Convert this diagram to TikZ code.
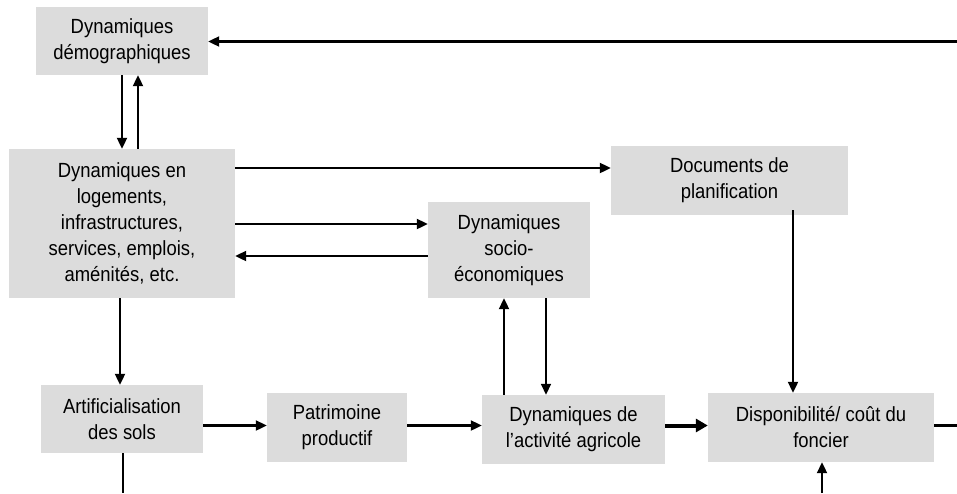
\documentclass[tikz,border=0pt]{standalone}
\usepackage{fontspec}
\setmainfont{Liberation Sans}[FakeStretch=0.9]
\usetikzlibrary{arrows.meta}
\definecolor{boxgray}{HTML}{DCDCDC}
\tikzset{
  box/.style={fill=boxgray, draw=none, inner sep=0pt, align=center,
    font=\fontsize{20.5}{26}\selectfont},
  conn/.style={line width=2.1pt, draw=black},
  arr/.style={conn, -{Triangle[length=11pt,width=10pt]}},
  thickarr/.style={line width=4pt, -{Triangle[length=12pt,width=13pt]}},
}
\begin{document}
\begin{tikzpicture}[x=1pt,y=-1pt]
\useasboundingbox (0,0) rectangle (957,493);
% boxes
\node[box, minimum width=172pt, minimum height=68pt] (demo) at (122,41) {Dynamiques\\démographiques};
\node[box, minimum width=226pt, minimum height=149pt] (log) at (122,223.5) {Dynamiques en\\logements,\\infrastructures,\\services, emplois,\\aménités, etc.};
\node[box, minimum width=237pt, minimum height=69pt] (docs) at (729.5,180.5) {Documents de\\planification};
\node[box, minimum width=162pt, minimum height=96pt] (socio) at (509,250) {Dynamiques\\socio-\\économiques};
\node[box, minimum width=162pt, minimum height=68pt] (artif) at (122,419) {Artificialisation\\des sols};
\node[box, minimum width=140pt, minimum height=69pt] (patr) at (337,427.5) {Patrimoine\\productif};
\node[box, minimum width=183pt, minimum height=69pt] (activ) at (573.5,429.5) {Dynamiques de\\l’activité agricole};
\node[box, minimum width=226pt, minimum height=69pt] (dispo) at (821,427.5) {Disponibilité/ coût du\\foncier};
% reference coordinates
\coordinate (Rtop) at (957,41.5);
\coordinate (yA) at (0,168);
\coordinate (yB) at (0,224);
\coordinate (yC) at (0,256);
\coordinate (yD) at (0,425.5);
\coordinate (xDn) at (122,0);
\coordinate (xUp) at (138,0);
\coordinate (xLA) at (120,0);
\coordinate (xAB) at (123,0);
\coordinate (xSU) at (504,0);
\coordinate (xSD) at (546,0);
\coordinate (xDD) at (793,0);
\coordinate (xDB) at (822,0);
\coordinate (artifEnd) at (123,493);
\coordinate (dispoIn) at (822,493);
\coordinate (rightEnd) at (957,425.5);
% connectors
\draw[arr] (Rtop) -- (demo.east |- Rtop);
\draw[arr] (demo.south -| xDn) -- (log.north -| xDn);
\draw[arr] (log.north -| xUp) -- (demo.south -| xUp);
\draw[arr] (log.east |- yA) -- (docs.west |- yA);
\draw[arr] (log.east |- yB) -- (socio.west |- yB);
\draw[arr] (socio.west |- yC) -- (log.east |- yC);
\draw[arr] (log.south -| xLA) -- (artif.north -| xLA);
\draw[conn] (artif.south -| xAB) -- (artifEnd);
\draw[arr] (artif.east |- yD) -- (patr.west |- yD);
\draw[arr] (patr.east |- yD) -- (activ.west |- yD);
\draw[thickarr] (activ.east |- yD) -- (dispo.west |- yD);
\draw[conn] (dispo.east |- yD) -- (rightEnd);
\draw[arr] (activ.north -| xSU) -- (socio.south -| xSU);
\draw[arr, line width=1.6pt] (socio.south -| xSD) -- (activ.north -| xSD);
\draw[arr] ([yshift=5pt]docs.south -| xDD) -- (dispo.north -| xDD);
\draw[arr] (dispoIn) -- (dispo.south -| xDB);
\end{tikzpicture}
\end{document}
